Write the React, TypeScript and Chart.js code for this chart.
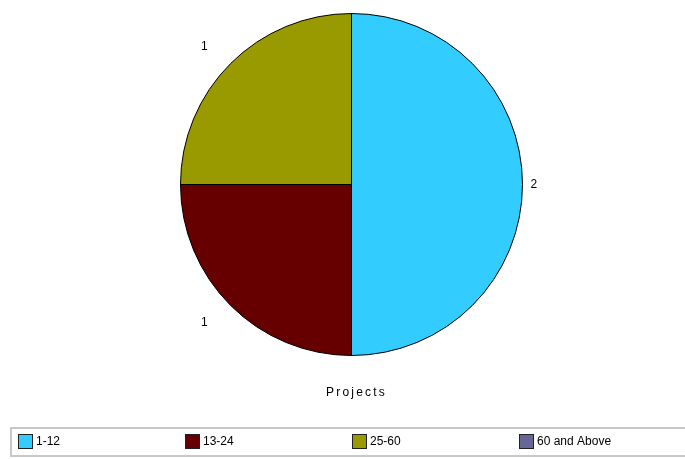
import React, { useEffect, useRef } from "react";
import { Chart, registerables } from "chart.js";

Chart.register(...registerables);

const categories = ["1-12", "13-24", "25-60", "60 and Above"];
const projectCounts = [2, 1, 1, 0];
const sliceColors = ["#33CCFF", "#660000", "#999900", "#666699"];
const chartTitle = "Projects";

const FONT = '"Liberation Sans", Arial, sans-serif';

const sliceLabelPlugin = {
  id: "sliceLabels",
  afterDatasetsDraw(chart: any) {
    const ctx = chart.ctx;
    const meta = chart.getDatasetMeta(0);
    const values = chart.data.datasets[0].data as number[];
    ctx.save();
    ctx.font = `12px ${FONT}`;
    ctx.fillStyle = "#000";
    ctx.textBaseline = "middle";
    meta.data.forEach((arc: any, i: number) => {
      const v = values[i];
      if (!v) return;
      const { x, y, startAngle, endAngle, outerRadius } = arc.getProps(
        ["x", "y", "startAngle", "endAngle", "outerRadius"],
        true
      );
      const mid = (startAngle + endAngle) / 2;
      const c = Math.cos(mid);
      const s = Math.sin(mid);
      const d = outerRadius + 2 + 31 * Math.abs(s);
      const side = c > 0.01 ? 1 : c < -0.01 ? -1 : 0;
      const lx = x + c * d + side * 6;
      const ly = y + s * d;
      ctx.textAlign = side > 0 ? "left" : side < 0 ? "right" : "center";
      ctx.fillText(String(v), lx, ly);
    });
    ctx.restore();
  },
};

const titleLegendPlugin = {
  id: "titleLegend",
  afterDraw(chart: any) {
    const ctx = chart.ctx;
    const meta = chart.getDatasetMeta(0);
    const arc0 = meta.data[0];
    const cx = arc0 ? arc0.x : chart.width / 2;
    const cy = arc0 ? arc0.y : chart.height / 2;
    const r = arc0 ? arc0.outerRadius : 0;
    ctx.save();
    // title
    ctx.font = `12px ${FONT}`;
    (ctx as any).letterSpacing = "2.2px";
    ctx.fillStyle = "#000";
    ctx.textAlign = "center";
    ctx.textBaseline = "middle";
    ctx.fillText(chartTitle, cx + 5, cy + r + 37);
    (ctx as any).letterSpacing = "0px";

    // legend box
    const boxTop = 428;
    const boxH = 28;
    ctx.strokeStyle = "#c8c8c8";
    ctx.lineWidth = 2;
    ctx.strokeRect(11, boxTop, chart.width + 10, boxH);

    const labels = chart.data.labels as string[];
    const colors = chart.data.datasets[0].backgroundColor as string[];
    const step = 167;
    labels.forEach((lab, i) => {
      const sx = 18 + i * step;
      const sy = boxTop + 6;
      ctx.fillStyle = colors[i];
      ctx.fillRect(sx, sy, 15, 15);
      ctx.strokeStyle = "#222";
      ctx.lineWidth = 1;
      ctx.strokeRect(sx + 0.5, sy + 0.5, 14, 14);
      ctx.fillStyle = "#000";
      ctx.textAlign = "left";
      ctx.textBaseline = "middle";
      ctx.font = `12px ${FONT}`;
      ctx.fillText(lab, sx + 18, sy + 8);
    });
    ctx.restore();
  },
};

export default function App() {
  const ref = useRef<HTMLCanvasElement | null>(null);

  useEffect(() => {
    document.body.style.margin = "0";
    const canvas = ref.current;
    if (!canvas) return;
    const chart = new Chart(canvas, {
      type: "pie",
      data: {
        labels: categories,
        datasets: [
          {
            data: projectCounts,
            backgroundColor: sliceColors,
            borderColor: "#000",
            borderWidth: 1,
          },
        ],
      },
      options: {
        animation: false,
        responsive: false,
        devicePixelRatio: 1,
        layout: { padding: { top: 13, bottom: 103, left: 18, right: 0 } },
        plugins: {
          legend: { display: false },
          tooltip: { enabled: false },
          title: { display: false },
        },
      },
      plugins: [sliceLabelPlugin, titleLegendPlugin],
    });
    return () => chart.destroy();
  }, []);

  return (
    <div style={{ position: "absolute", left: 0, top: 0, width: 685, height: 459, background: "#fff" }}>
      <canvas ref={ref} width={685} height={459} style={{ width: 685, height: 459 }} />
    </div>
  );
}
